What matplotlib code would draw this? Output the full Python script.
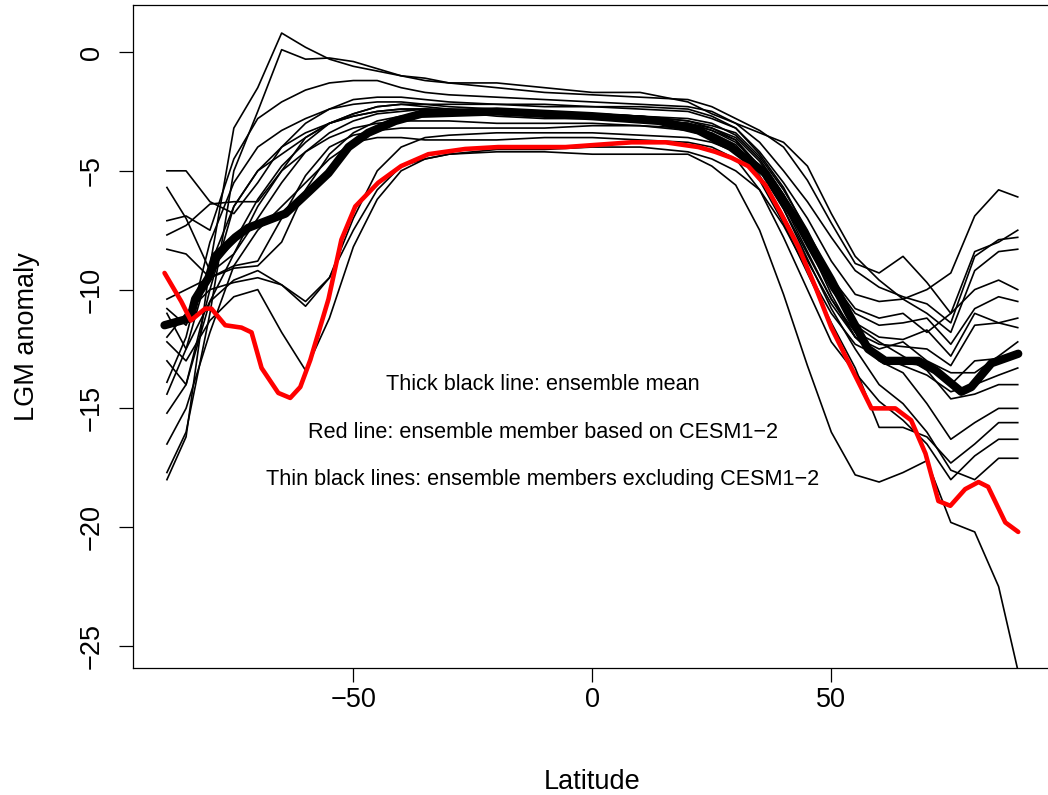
import matplotlib
matplotlib.use("Agg")
import matplotlib.pyplot as plt

plt.rcParams['font.family'] = ['Liberation Sans', 'DejaVu Sans']

# latitude grid shared by the thin ensemble members
lat = [-89, -85, -80, -75, -70, -65, -60, -55, -50, -45, -40, -35, -30,
       -20, -10, 0, 10, 20, 25,
       30, 35, 40, 45, 50, 55, 60, 65, 70, 75, 80, 85, 89]

# thin lines: ensemble members excluding CESM1-2
members = [
    [-18.0, -16.2, -9.0, -3.2, -1.5, 0.8, 0.2, -0.3, -0.6, -0.8, -1.0, -1.2, -1.3,
     -1.3, -1.5, -1.7, -1.7, -2.1, -2.6,
     -3.0, -3.4, -3.8, -4.8, -6.8, -8.6, -9.6, -10.4, -10.0, -9.3, -6.9, -5.8, -6.1],
    [-17.7, -16.0, -11.0, -5.0, -2.5, 0.1, -0.3, -0.25, -0.4, -0.7, -1.0, -1.1, -1.3,
     -1.5, -1.7, -1.8, -1.9, -2.0, -2.3,
     -2.8, -3.3, -4.0, -5.4, -7.2, -8.9, -9.3, -8.6, -9.7, -11.0, -8.4, -8.0, -7.5],
    [-7.1, -6.9, -7.5, -4.5, -2.8, -2.1, -1.6, -1.3, -1.2, -1.2, -1.5, -1.7, -1.8,
     -1.9, -2.0, -2.1, -2.2, -2.3, -2.5,
     -3.0, -3.8, -5.0, -6.3, -7.8, -9.2, -9.9, -10.3, -10.6, -11.4, -8.6, -7.9, -7.8],
    [-5.0, -5.0, -6.3, -6.8, -5.5, -4.0, -3.0, -2.4, -2.0, -1.9, -1.9, -2.0, -2.1,
     -2.2, -2.3, -2.3, -2.4, -2.5, -2.8,
     -3.2, -4.2, -5.5, -7.0, -8.8, -10.2, -10.5, -10.4, -11.0, -11.8, -9.2, -8.4, -8.3],
    [-5.7, -7.0, -9.2, -8.0, -6.2, -4.8, -3.8, -3.0, -2.6, -2.3, -2.2, -2.2, -2.3,
     -2.4, -2.5, -2.6, -2.7, -2.9, -3.1,
     -3.4, -4.4, -5.8, -7.5, -9.5, -10.8, -11.2, -11.0, -11.8, -11.0, -10.0, -9.6, -10.0],
    [-7.7, -7.3, -6.4, -6.3, -6.3, -5.0, -3.6, -3.0, -2.7, -2.5, -2.4, -2.4, -2.5,
     -2.7, -2.8, -2.8, -2.9, -3.0, -3.2,
     -3.6, -4.6, -6.0, -7.8, -9.6, -11.0, -11.5, -11.4, -11.2, -12.3, -10.8, -10.3, -10.5],
    [-8.3, -8.5, -9.5, -9.1, -9.0, -8.0, -5.8, -4.3, -3.4, -2.9, -2.7, -2.6, -2.6,
     -2.6, -2.7, -2.7, -2.8, -3.0, -3.3,
     -3.7, -4.8, -6.3, -8.2, -10.0, -11.4, -12.0, -12.1, -11.7, -12.8, -11.0, -11.4, -11.2],
    [-10.4, -10.0, -9.5, -9.0, -8.8, -7.0, -5.2, -4.0, -3.5, -3.3, -3.2, -3.2, -3.2,
     -3.2, -3.2, -3.1, -3.1, -3.2, -3.4,
     -3.9, -5.0, -6.6, -8.5, -10.4, -11.8, -12.3, -12.4, -12.5, -13.2, -11.5, -11.4, -11.6],
    [-11.0, -12.5, -10.5, -9.6, -9.2, -9.8, -10.7, -9.5, -7.0, -5.0, -4.0, -3.6, -3.5,
     -3.4, -3.4, -3.4, -3.5, -3.6, -3.8,
     -4.2, -5.2, -6.9, -8.8, -10.6, -12.0, -12.5, -12.2, -13.0, -13.5, -13.5, -12.8, -12.2],
    [-12.2, -13.0, -11.3, -10.3, -10.0, -11.8, -13.4, -11.2, -8.2, -6.2, -5.0, -4.5, -4.3,
     -4.1, -4.1, -4.0, -4.0, -4.2, -4.5,
     -5.0, -5.8, -7.3, -9.2, -11.0, -12.3, -12.8, -13.2, -13.6, -14.3, -14.0, -13.6, -13.3],
    [-13.9, -12.0, -8.0, -5.5, -4.0, -3.3, -2.8, -2.4, -2.2, -2.1, -2.1, -2.2, -2.2,
     -2.2, -2.2, -2.3, -2.3, -2.4, -2.7,
     -3.2, -4.3, -5.7, -7.6, -9.7, -11.5, -12.2, -12.8, -13.4, -14.6, -14.4, -14.0, -14.0],
    [-14.4, -12.5, -9.0, -6.5, -5.0, -4.0, -3.4, -3.0, -2.7, -2.5, -2.4, -2.4, -2.4,
     -2.5, -2.6, -2.6, -2.7, -2.8, -3.0,
     -3.5, -4.5, -6.0, -8.0, -10.2, -12.0, -13.0, -13.5, -14.8, -16.3, -15.6, -15.0, -15.0],
    [-15.2, -14.0, -10.5, -8.5, -6.5, -5.0, -4.2, -3.6, -3.2, -3.0, -2.9, -2.9, -2.9,
     -3.0, -3.0, -3.0, -3.1, -3.3, -3.6,
     -4.2, -5.4, -7.2, -9.3, -11.4, -13.3, -15.8, -15.8, -16.2, -17.3, -16.5, -15.6, -15.6],
    [-16.5, -15.0, -11.8, -9.0, -7.5, -6.5, -5.5, -4.5, -3.8, -3.6, -3.6, -3.7, -3.7,
     -3.7, -3.6, -3.6, -3.7, -3.8, -4.0,
     -4.5, -5.8, -7.8, -10.0, -12.2, -13.5, -14.7, -15.5, -16.5, -18.0, -17.0, -16.3, -16.3],
    [-13.0, -14.0, -10.0, -6.5, -5.0, -4.3, -3.6, -3.0, -2.6, -2.3, -2.2, -2.3, -2.4,
     -2.5, -2.6, -2.6, -2.7, -2.9, -3.2,
     -3.7, -4.9, -6.6, -8.7, -10.8, -12.5, -14.0, -14.8, -16.0, -17.6, -18.0, -17.1, -17.1],
    [-10.8, -11.5, -9.3, -8.5, -7.0, -5.5, -4.2, -3.4, -2.9, -2.6, -2.5, -2.4, -2.5,
     -2.6, -2.7, -2.7, -2.8, -3.0, -3.3,
     -3.8, -4.8, -6.4, -8.4, -10.4, -12.0, -12.8, -13.1, -13.2, -14.0, -13.0, -12.9, -12.8],
    [-12.0, -11.0, -10.0, -9.7, -9.5, -9.8, -10.5, -9.5, -7.5, -5.8, -4.8, -4.5, -4.3,
     -4.2, -4.2, -4.3, -4.3, -4.3, -4.8,
     -5.6, -7.5, -10.2, -13.2, -16.0, -17.8, -18.1, -17.7, -17.2, -19.8, -20.2, -22.5, -26.0],
]

# thick black line: ensemble mean
mean_lat = [-89.5, -84.1, -83.1, -80.3, -78.9, -74.7, -72.0, -64.2, -59.4, -55.2, -51.0,
            -46.9, -41.2, -35.8, -20, 0, 14, 22.2, 29, 36.2, 43.1, 50, 53.6, 57.7,
            61.3, 68.2, 71.8, 77.2, 79.3, 83.5, 89.1]
mean_val = [-11.5, -11.2, -10.4, -9.5, -8.6, -7.8, -7.4, -6.8, -5.9, -5.1, -4.0,
            -3.4, -2.9, -2.6, -2.5, -2.7, -2.9, -3.3, -4.0, -5.1, -7.2, -9.6, -11.0, -12.5,
            -13.0, -13.0, -13.4, -14.3, -14.1, -13.1, -12.7]

# red line: member based on CESM1-2
cesm_lat = [-89.5, -86, -84, -81, -79.7, -76.8, -73.4, -71.3, -69.2, -65.7, -63.2, -61.1,
            -59, -55.2, -52.5, -49.6, -44.8, -40, -34.3, -26.6, -19.7, -5.6, 1.3, 8.2,
            15.3, 22.2, 25.7, 29.1, 32.6, 36.2, 39.5, 43.1, 46.7, 50, 54.2, 58.4, 63.4,
            66.7, 69.7, 72.4, 74.9, 78, 80.8, 82.8, 86.4, 89.1]
cesm_val = [-9.3, -10.5, -11.3, -10.8, -10.8, -11.5, -11.6, -11.8, -13.3, -14.35, -14.56, -14.1,
            -12.96, -10.4, -7.9, -6.5, -5.5, -4.8, -4.3, -4.08, -4.0, -4.0, -3.9, -3.8,
            -3.8, -4.0, -4.2, -4.45, -4.8, -5.6, -6.8, -8.2, -9.9, -11.6, -13.3, -15.0, -15.0,
            -15.5, -16.9, -18.9, -19.1, -18.4, -18.1, -18.3, -19.8, -20.2]

notes = ["Thick black line: ensemble mean",
         "Red line: ensemble member based on CESM1\u22122",
         "Thin black lines: ensemble members excluding CESM1\u22122"]
note_y = [-14, -16, -18]

fig = plt.figure(figsize=(10.48, 7.95), dpi=100)
ax = fig.add_axes([0.1269, 0.1597, 0.8766, 0.8340])

for m in members:
    ax.plot(lat, m, color="black", lw=1.2, solid_joinstyle="round")
ax.plot(mean_lat, mean_val, color="black", lw=6.0, solid_capstyle="round", solid_joinstyle="round")
ax.plot(cesm_lat, cesm_val, color="red", lw=3.3, solid_capstyle="round", solid_joinstyle="round")

for txt, yy in zip(notes, note_y):
    ax.text(-10.3, yy, txt, ha="center", va="center", fontsize=15.6)

ax.set_xlim(-96.1, 96.1)
ax.set_ylim(-25.93, 1.98)
ax.set_xticks([-50, 0, 50])
ax.set_yticks([0, -5, -10, -15, -20, -25])
ax.tick_params(length=10, width=0.9, labelsize=19.5)
ax.tick_params(axis="x", pad=4)
ax.tick_params(axis="y", pad=10.5)
for lab in ax.get_yticklabels():
    lab.set_rotation(90)
    lab.set_va("center")
for s in ax.spines.values():
    s.set_linewidth(0.9)
ax.set_xlabel("Latitude", fontsize=19.5, labelpad=40)
ax.set_ylabel("LGM anomaly", fontsize=19.5, labelpad=28)

fig.savefig("out.png", dpi=100)
